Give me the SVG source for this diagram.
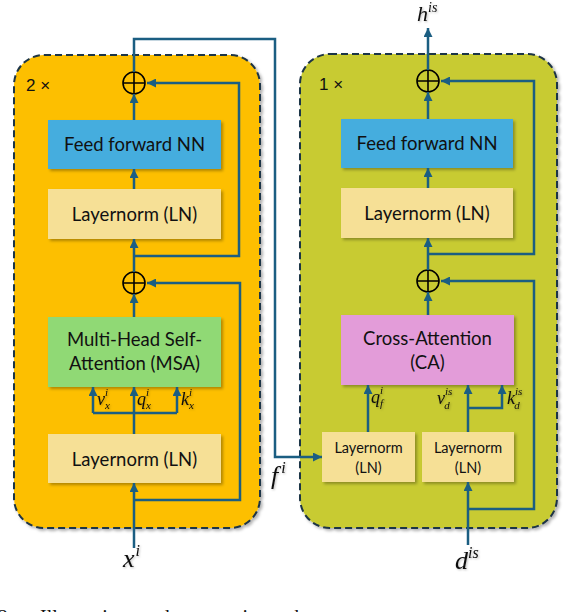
<svg xmlns="http://www.w3.org/2000/svg" width="580" height="612" viewBox="0 0 580 612">
<defs>
<marker id="arr" viewBox="0 0 10 10" refX="10" refY="5" markerWidth="9" markerHeight="9" markerUnits="userSpaceOnUse" orient="auto">
<path d="M0,0 L10,5 L0,10 z" fill="#1B5E82"/>
</marker>
<filter id="sh" x="-10%" y="-10%" width="125%" height="130%">
<feDropShadow dx="2" dy="2" stdDeviation="1.5" flood-color="#000" flood-opacity="0.3"/>
</filter>
<filter id="tsh" x="-10%" y="-10%" width="130%" height="140%">
<feDropShadow dx="1" dy="1" stdDeviation="0.8" flood-color="#000" flood-opacity="0.25"/>
</filter>
</defs>
<style>
.panel{stroke:#1E3446;stroke-width:2;stroke-dasharray:7 4;filter:url(#sh)}
.box{filter:url(#sh)}
.lbl{font-family:"Lato","Open Sans",sans-serif;font-size:18.5px;fill:#111;text-anchor:middle}
.sm{font-family:"Lato","Open Sans",sans-serif;font-size:14.5px;fill:#111;text-anchor:middle}
.mult{font-family:"Liberation Sans",sans-serif;font-size:17px;fill:#111}
.math{font-family:"Liberation Serif",serif;font-style:italic;fill:#111;filter:url(#tsh)}
.sup{font-size:11px}
.con{fill:none;stroke:#1B5E82;stroke-width:2.5}
.arr{marker-end:url(#arr)}
.op{fill:none;stroke:#000;stroke-width:1.6}
.cap{font-family:"Liberation Serif",serif;font-size:20px;fill:#111}
</style>

<g id="encoder-panel">
<rect x="14" y="55" width="246" height="473" rx="30" fill="#FDBF00" class="panel"/>
<text x="26" y="91" class="mult">2 ×</text>
</g>
<g id="decoder-panel">
<rect x="300" y="54" width="257" height="474" rx="30" fill="#C8CB30" class="panel"/>
<text x="319" y="90" class="mult">1 ×</text>
</g>

<g id="enc-ffn"><rect x="48" y="120" width="173" height="49" fill="#45ADDE" class="box"/><text x="134.5" y="151" class="lbl">Feed forward NN</text></g>
<g id="enc-ln2"><rect x="48" y="189" width="173" height="50" fill="#F6E096" class="box"/><text x="134.5" y="221" class="lbl">Layernorm (LN)</text></g>
<g id="enc-msa"><rect x="48" y="317" width="173" height="70" fill="#90D974" class="box"/><text x="134.5" y="346" class="lbl">Multi-Head Self-</text><text x="134.5" y="370" class="lbl">Attention (MSA)</text></g>
<g id="enc-ln1"><rect x="48" y="434" width="173" height="49" fill="#F6E096" class="box"/><text x="134.5" y="466" class="lbl">Layernorm (LN)</text></g>
<g id="enc-add1"><circle cx="134" cy="283" r="11" class="op"/><path d="M123,283 H145 M134,272 V294" class="op"/></g>
<g id="enc-add2"><circle cx="134" cy="83" r="11" class="op"/><path d="M123,83 H145 M134,72 V94" class="op"/></g>

<g id="dec-ffn"><rect x="341" y="119" width="172" height="49" fill="#45ADDE" class="box"/><text x="427" y="150" class="lbl">Feed forward NN</text></g>
<g id="dec-ln2"><rect x="341" y="188" width="172" height="50" fill="#F6E096" class="box"/><text x="427" y="220" class="lbl">Layernorm (LN)</text></g>
<g id="dec-ca"><rect x="341" y="315" width="173" height="70" fill="#E39CD9" class="box"/><text x="427.5" y="345" class="lbl">Cross-Attention</text><text x="427.5" y="369" class="lbl">(CA)</text></g>
<g id="dec-ln-f"><rect x="322" y="432" width="93" height="50" fill="#F6E096" class="box"/><text x="368.5" y="453" class="sm">Layernorm</text><text x="368.5" y="473" class="sm">(LN)</text></g>
<g id="dec-ln-d"><rect x="422" y="432" width="92" height="50" fill="#F6E096" class="box"/><text x="468" y="453" class="sm">Layernorm</text><text x="468" y="473" class="sm">(LN)</text></g>
<g id="dec-add1"><circle cx="428" cy="281" r="11" class="op"/><path d="M417,281 H439 M428,270 V292" class="op"/></g>
<g id="dec-add2"><circle cx="428" cy="81" r="11" class="op"/><path d="M417,81 H439 M428,70 V92" class="op"/></g>

<g id="connectors">
<path d="M134,548 V483" class="con arr"/>
<path d="M134,500 H240 V283 H147" class="con arr"/>
<path d="M134,434 V387" class="con arr"/>
<path d="M93,413 H177" class="con"/>
<path d="M93,413 V387" class="con arr"/>
<path d="M177,413 V387" class="con arr"/>
<path d="M134,317 V294" class="con arr"/>
<path d="M134,272 V239" class="con arr"/>
<path d="M134,256 H239 V83 H147" class="con arr"/>
<path d="M134,189 V169" class="con arr"/>
<path d="M134,120 V94" class="con arr"/>
<path d="M134,72 V39 H275 V457 H322" class="con arr"/>
<path d="M468,545 V482" class="con arr"/>
<path d="M468,509 H534 V281 H441" class="con arr"/>
<path d="M368,432 V385" class="con arr"/>
<path d="M468,432 V385" class="con arr"/>
<path d="M468,408 H502 V385" class="con arr"/>
<path d="M428,315 V292" class="con arr"/>
<path d="M428,270 V238" class="con arr"/>
<path d="M428,254 H534 V81 H441" class="con arr"/>
<path d="M428,188 V168" class="con arr"/>
<path d="M428,119 V92" class="con arr"/>
<path d="M428,70 V28" class="con arr"/>
</g>

<g id="labels">
<text x="97" y="405" class="math" font-size="18">v<tspan class="sup" dx="0" dy="-9">i</tspan><tspan class="sup" dx="-3" dy="13">x</tspan></text>
<text x="137" y="405" class="math" font-size="18">q<tspan class="sup" dx="0" dy="-9">i</tspan><tspan class="sup" dx="-3" dy="13">x</tspan></text>
<text x="181" y="405" class="math" font-size="18">k<tspan class="sup" dx="0" dy="-9">i</tspan><tspan class="sup" dx="-3" dy="13">x</tspan></text>
<text x="371" y="403" class="math" font-size="18">q<tspan class="sup" dx="0" dy="-9">i</tspan><tspan class="sup" dx="-3" dy="13">f</tspan></text>
<text x="437" y="404" class="math" font-size="18">v<tspan class="sup" dx="0" dy="-9">is</tspan><tspan class="sup" dx="-8" dy="14">d</tspan></text>
<text x="507" y="404" class="math" font-size="18">k<tspan class="sup" dx="0" dy="-9">is</tspan><tspan class="sup" dx="-8" dy="14">d</tspan></text>
<text x="123" y="567" class="math" font-size="26">x<tspan font-size="16" dx="1" dy="-11">i</tspan></text>
<text x="271" y="484" class="math" font-size="26">f<tspan font-size="16" dx="3" dy="-11">i</tspan></text>
<text x="455" y="569" class="math" font-size="26">d<tspan font-size="16" dy="-11">is</tspan></text>
<text x="417" y="21" class="math" font-size="22">h<tspan font-size="14" dy="-9">is</tspan></text>
</g>

<g id="caption">
<text x="-2" y="624" class="cap">2.</text>
<text x="40" y="624" class="cap" word-spacing="8">Illustration and comparison the</text>
</g>
</svg>
